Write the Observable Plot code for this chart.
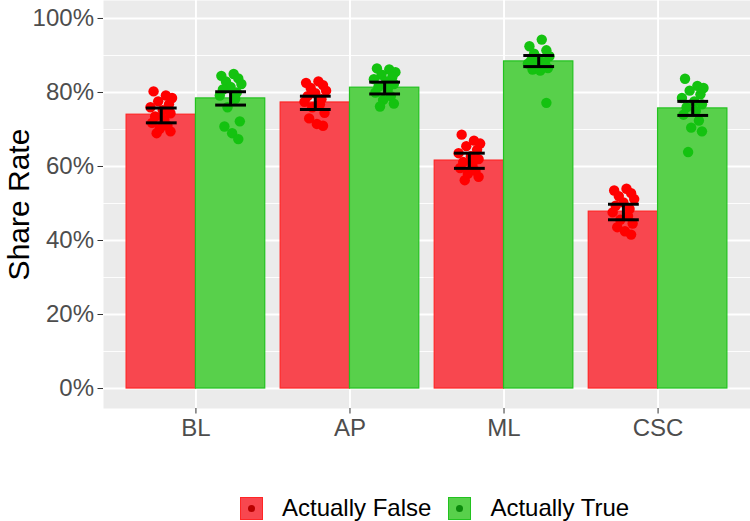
<!DOCTYPE html>
<html>
<head>
<meta charset="utf-8">
<script src="https://cdn.jsdelivr.net/npm/d3@7"></script>
<script src="https://cdn.jsdelivr.net/npm/@observablehq/plot@0.6"></script>
<style>
  html, body { margin: 0; padding: 0; background: #ffffff; }
  body { width: 750px; height: 521px; overflow: hidden; font-family: "Liberation Sans", Arial, sans-serif; }
  #legend { display: flex; align-items: center; height: 24px; padding-top: 36px; padding-left: 240px; }
  .key { position: relative; width: 23px; height: 23px; box-sizing: border-box; }
  .key .dot { position: absolute; left: 50%; top: 50%; width: 7px; height: 7px; margin: -3.5px 0 0 -3.5px; border-radius: 50%; }
  .lab { font-size: 24px; color: #000; margin-left: 19px; margin-right: 17px; line-height: 24px; }
</style>
</head>
<body>
<div id="chart"></div>
<div id="legend"></div>
<script>
// Share rate by condition, split by whether the item was actually false or true
const categories = ["BL", "AP", "ML", "CSC"];
const groups = ["Actually False", "Actually True"];

// bar heights (group means)
const meanFalse = [0.740, 0.773, 0.616, 0.478];
const meanTrue  = [0.784, 0.813, 0.884, 0.757];

// error bar limits
const lowFalse  = [0.718, 0.754, 0.595, 0.456];
const highFalse = [0.758, 0.790, 0.636, 0.498];
const lowTrue   = [0.766, 0.796, 0.870, 0.738];
const highTrue  = [0.802, 0.828, 0.900, 0.776];

// individual observations per condition
const ptsFalseBL  = [0.803, 0.792, 0.785, 0.776, 0.768, 0.760, 0.752, 0.744, 0.735, 0.726, 0.718, 0.710, 0.702, 0.695, 0.690];
const ptsTrueBL   = [0.850, 0.845, 0.838, 0.830, 0.823, 0.815, 0.808, 0.800, 0.792, 0.783, 0.760, 0.722, 0.708, 0.690, 0.674];
const ptsFalseAP  = [0.830, 0.826, 0.820, 0.812, 0.805, 0.798, 0.790, 0.782, 0.775, 0.768, 0.760, 0.745, 0.730, 0.715, 0.710];
const ptsTrueAP   = [0.865, 0.862, 0.855, 0.848, 0.842, 0.836, 0.830, 0.823, 0.816, 0.808, 0.800, 0.790, 0.780, 0.770, 0.762];
const ptsFalseML  = [0.686, 0.670, 0.662, 0.655, 0.645, 0.636, 0.628, 0.620, 0.612, 0.604, 0.596, 0.588, 0.580, 0.572, 0.563];
const ptsTrueML   = [0.943, 0.925, 0.914, 0.905, 0.898, 0.892, 0.886, 0.882, 0.878, 0.874, 0.870, 0.866, 0.862, 0.859, 0.772];
const ptsFalseCSC = [0.540, 0.535, 0.528, 0.520, 0.512, 0.503, 0.494, 0.485, 0.476, 0.466, 0.456, 0.446, 0.436, 0.425, 0.416];
const ptsTrueCSC  = [0.837, 0.818, 0.812, 0.805, 0.795, 0.785, 0.776, 0.768, 0.760, 0.750, 0.740, 0.724, 0.705, 0.695, 0.639];

// horizontal jitter (in category units) applied to the observations
const jitterA = [-0.05, 0.03, 0.07, -0.02, 0.05, -0.07, 0.01, 0.06, -0.04, 0.02, -0.06, 0.04, -0.01, 0.06, -0.03];
const jitterB = [0.02, -0.06, 0.05, -0.03, 0.07, 0.00, -0.05, 0.04, -0.07, 0.03, -0.02, 0.06, -0.04, 0.01, 0.05];

const yTicks = [0, 0.2, 0.4, 0.6, 0.8, 1.0];
const yMinor = [0.1, 0.3, 0.5, 0.7, 0.9];

const fillFalse = "#f8474f", lineFalse = "#ff2626", dotFalse = "#ff0000";
const fillTrue  = "#58d04b", lineTrue  = "#22c21f", dotTrue  = "#14c210";

const half = 0.45;   // width of each dodged bar
const cap = 0.1;     // half width of error bar caps

const barsF = categories.map((c, i) => ({x1: i - half, x2: i, y: meanFalse[i], lo: lowFalse[i], hi: highFalse[i], xc: i - half / 2}));
const barsT = categories.map((c, i) => ({x1: i, x2: i + half, y: meanTrue[i], lo: lowTrue[i], hi: highTrue[i], xc: i + half / 2}));

const ptsF = [ptsFalseBL, ptsFalseAP, ptsFalseML, ptsFalseCSC];
const ptsT = [ptsTrueBL, ptsTrueAP, ptsTrueML, ptsTrueCSC];
const obsF = ptsF.flatMap((arr, i) => arr.map((v, k) => ({x: i - half / 2 + (i % 2 ? jitterB[k] : jitterA[k]), y: v})));
const obsT = ptsT.flatMap((arr, i) => arr.map((v, k) => ({x: i + half / 2 + (i % 2 ? jitterA[k] : jitterB[k]), y: v})));

const errorMarks = bars => [
  Plot.link(bars, {x1: "xc", x2: "xc", y1: "lo", y2: "hi", stroke: "#000", strokeWidth: 3}),
  Plot.link(bars, {x1: d => d.xc - cap, x2: d => d.xc + cap, y1: "lo", y2: "lo", stroke: "#000", strokeWidth: 3}),
  Plot.link(bars, {x1: d => d.xc - cap, x2: d => d.xc + cap, y1: "hi", y2: "hi", stroke: "#000", strokeWidth: 3})
];

const chart = Plot.plot({
  width: 750,
  height: 460,
  marginLeft: 103,
  marginRight: 0,
  marginTop: 0,
  marginBottom: 52,
  style: {fontFamily: "'Liberation Sans', Arial, sans-serif", background: "#ffffff"},
  x: {type: "linear", domain: [-0.6, 3.6]},
  y: {domain: [-0.054, 1.0486]},
  marks: [
    Plot.frame({fill: "#ebebeb", stroke: "none"}),
    Plot.gridY(yMinor, {stroke: "#ffffff", strokeOpacity: 1, strokeWidth: 0.9}),
    Plot.gridY(yTicks, {stroke: "#ffffff", strokeOpacity: 1, strokeWidth: 1.9}),
    Plot.gridX([0, 1, 2, 3], {stroke: "#ffffff", strokeOpacity: 1, strokeWidth: 1.9}),
    Plot.rect(barsF, {x1: "x1", x2: "x2", y1: 0, y2: "y", fill: fillFalse, stroke: lineFalse, strokeWidth: 1.2}),
    Plot.rect(barsT, {x1: "x1", x2: "x2", y1: 0, y2: "y", fill: fillTrue, stroke: lineTrue, strokeWidth: 1.2}),
    Plot.dot(obsF, {x: "x", y: "y", r: 5.2, fill: dotFalse, stroke: "none"}),
    Plot.dot(obsT, {x: "x", y: "y", r: 5.2, fill: dotTrue, stroke: "none"}),
    ...errorMarks(barsF),
    ...errorMarks(barsT),
    Plot.axisY({
      ticks: yTicks, tickFormat: d3.format(".0%"), tickSize: 5.5, tickPadding: 4,
      fontSize: 24, color: "#4d4d4d", stroke: "#333333", label: null
    }),
    Plot.axisX({
      ticks: [0, 1, 2, 3], tickFormat: i => categories[i], tickSize: 5.5, tickPadding: 5,
      fontSize: 24, color: "#4d4d4d", stroke: "#333333", label: null
    }),
    Plot.text(["Share Rate"], {
      frameAnchor: "left", textAnchor: "middle", dx: -84, rotate: -90, text: d => d,
      fontSize: 30, fill: "#000000"
    })
  ]
});
document.getElementById("chart").appendChild(chart);

// legend below the chart
const legend = d3.select("#legend");
[[groups[0], fillFalse, lineFalse, "#b80000"], [groups[1], fillTrue, lineTrue, "#0c8a0c"]].forEach(([name, fill, line, dot]) => {
  const key = legend.append("div").attr("class", "key")
    .style("background", fill).style("border", `1px solid ${line}`);
  key.append("div").attr("class", "dot").style("background", dot);
  legend.append("span").attr("class", "lab").text(name);
});
</script>
</body>
</html>
